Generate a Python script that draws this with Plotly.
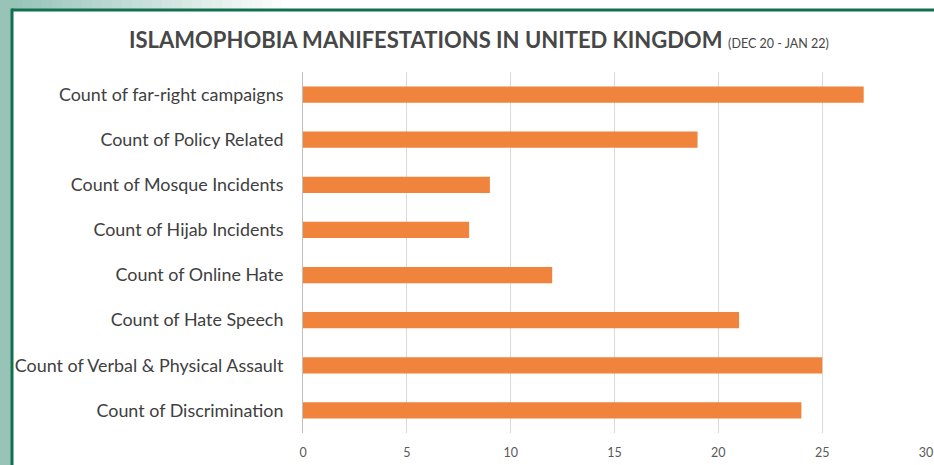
import plotly.graph_objects as go

# Islamophobia manifestations, UK, Dec 2020 - Jan 2022
categories = [
    "Count of Discrimination",
    "Count of Verbal & Physical Assault",
    "Count of Hate Speech",
    "Count of Online Hate",
    "Count of Hijab Incidents",
    "Count of Mosque Incidents",
    "Count of Policy Related",
    "Count of far-right campaigns",
]
counts = [24, 25, 21, 12, 8, 9, 19, 27]
x_ticks = [0, 5, 10, 15, 20, 25, 30]

W, H = 934, 465
ML, MR, MT, MB = 303, 8, 72, 32
PW, PH = W - ML - MR, H - MT - MB


def px(x):
    return (x - ML) / PW


def py(y):
    return 1 - (y - MT) / PH


FONT = "Lato, 'Open Sans', sans-serif"
ORANGE = "#f0843c"
FRAME = "#12704f"
TEAL = "#98c4b8"

fig = go.Figure(
    go.Bar(
        x=counts,
        y=categories,
        orientation="h",
        width=0.36,
        marker=dict(color=ORANGE, line=dict(width=0)),
        hoverinfo="x+y",
    )
)

shapes = []
# teal side strip
shapes.append(dict(type="rect", xref="paper", yref="paper", x0=px(0), x1=px(12),
                   y0=py(H), y1=py(0), fillcolor=TEAL, line=dict(width=0), layer="below"))
# top strip fading from teal to white
steps = 28
for i in range(steps):
    t = i / (steps - 1)
    r = int(0x98 + (0xff - 0x98) * t)
    g = int(0xc4 + (0xff - 0xc4) * t)
    b = int(0xb8 + (0xff - 0xb8) * t)
    x0 = 12 + i * 10
    shapes.append(dict(type="rect", xref="paper", yref="paper", x0=px(x0), x1=px(x0 + 10.5),
                       y0=py(9), y1=py(0), fillcolor=f"rgb({r},{g},{b})",
                       line=dict(width=0), layer="below"))
# green frame lines
shapes.append(dict(type="line", xref="paper", yref="paper", x0=px(12), x1=px(W),
                   y0=py(10), y1=py(10), line=dict(color=FRAME, width=3)))
shapes.append(dict(type="line", xref="paper", yref="paper", x0=px(12), x1=px(12),
                   y0=py(8.5), y1=py(H), line=dict(color=FRAME, width=3)))

fig.update_layout(
    width=W,
    height=H,
    margin=dict(l=ML, r=MR, t=MT, b=MB),
    paper_bgcolor="white",
    plot_bgcolor="white",
    showlegend=False,
    bargap=0.64,
    font=dict(family=FONT, color="#595959"),
    shapes=shapes,
    annotations=[
        dict(
            text="<b>ISLAMOPHOBIA MANIFESTATIONS IN UNITED KINGDOM</b> "
                 "<span style='font-size:12.5px'>(DEC 20 - JAN 22)</span>",
            xref="paper", yref="paper", x=px(479), y=py(40),
            xanchor="center", yanchor="middle", showarrow=False,
            font=dict(family=FONT, size=22, color="#474747"),
        )
    ],
    xaxis=dict(
        range=[0, 30],
        tickvals=x_ticks,
        automargin=False,
        showgrid=True,
        gridcolor="#d9d9d9",
        gridwidth=1,
        zeroline=False,
        showline=False,
        ticks="",
        tickfont=dict(size=12.5, color="#595959"),
        ticklabelstandoff=10,
        fixedrange=True,
    ),
    yaxis=dict(
        categoryorder="array",
        categoryarray=categories,
        automargin=False,
        showgrid=False,
        showline=True,
        linecolor="#bfbfbf",
        linewidth=1,
        ticks="",
        ticklabelstandoff=15,
        tickfont=dict(size=17.9, color="#404040"),
        fixedrange=True,
    ),
)

fig.write_html("out.html")
